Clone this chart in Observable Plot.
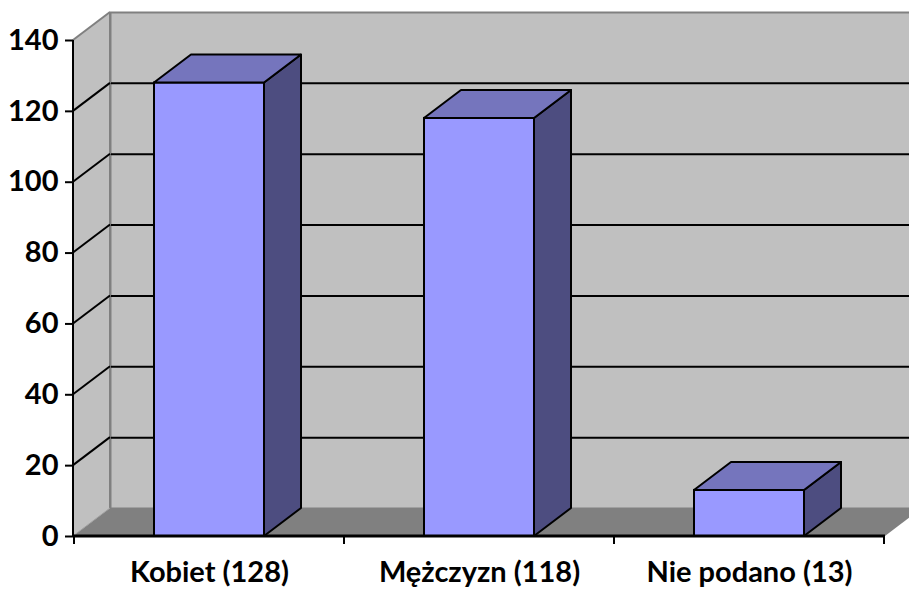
<!DOCTYPE html>
<html><head><meta charset="utf-8">
<script src="https://cdn.jsdelivr.net/npm/d3@7"></script>
<script src="https://cdn.jsdelivr.net/npm/@observablehq/plot@0.6"></script>
<style>body{margin:0;background:#fff}</style>
</head><body><div id="chart"></div>
<script>
const categories = ["Kobiet (128)", "Mężczyzn (118)", "Nie podano (13)"];
const values = [128, 118, 13];
const yTicks = [0, 20, 40, 60, 80, 100, 120, 140];
const gridValues = [20, 40, 60, 80, 100, 120];

const data = categories.map((c, i) => ({category: c, value: values[i]}));

const DX = 37, DY = -28, INSET = 80;
const NS = "http://www.w3.org/2000/svg";
function el(tag, attrs) {
  const e = document.createElementNS(NS, tag);
  for (const k in attrs) e.setAttribute(k, attrs[k]);
  return e;
}
function poly(pts, attrs) {
  return el("polygon", Object.assign({points: pts.map(p => p.join(",")).join(" ")}, attrs));
}

function chrome(index, scales, ch, dim) {
  const y = scales.y;
  const x0 = dim.marginLeft, x1 = dim.width - dim.marginRight;
  const y0 = y(0), yT = y(140);
  const g = el("g", {});
  g.append(poly([[x0, y0], [x0, yT], [x0 + DX, yT + DY], [x0 + DX, y0 + DY]],
    {fill: "#C0C0C0", stroke: "none"}));
  g.append(el("line", {x1: x0, y1: yT, x2: x0 + DX, y2: yT + DY, stroke: "#808080", "stroke-width": 2}));
  g.append(el("line", {x1: x0 + DX, y1: yT + DY, x2: x0 + DX, y2: y0 + DY, stroke: "#808080", "stroke-width": 2}));
  for (const v of gridValues) {
    g.append(el("line", {x1: x0, y1: y(v), x2: x0 + DX, y2: y(v) + DY, stroke: "#000", "stroke-width": 2}));
  }
  g.append(poly([[x0, y0], [x1, y0], [x1 + DX, y0 + DY], [x0 + DX, y0 + DY]],
    {fill: "#808080", stroke: "none"}));
  g.append(el("line", {x1: x0, y1: y0, x2: x0 + DX, y2: y0 + DY, stroke: "#a0a0a0", "stroke-width": 1}));
  return g;
}

function faces(index, scales, ch, dim) {
  const x = scales.x, y = scales.y;
  const bw = x.bandwidth ? x.bandwidth() : (dim.width - dim.marginLeft - dim.marginRight) / categories.length;
  const g = el("g", {stroke: "#000", "stroke-width": 2, "stroke-linejoin": "round"});
  categories.forEach((c, i) => {
    const xl = x(c) + INSET, xr = x(c) + bw - INSET;
    const yv = y(values[i]), y0 = y(0);
    g.append(poly([[xr, yv], [xr + DX, yv + DY], [xr + DX, y0 + DY], [xr, y0]], {fill: "#4D4D80"}));
    g.append(poly([[xl, yv], [xr, yv], [xr + DX, yv + DY], [xl + DX, yv + DY]], {fill: "#7575BD"}));
  });
  return g;
}

function axesLines(index, scales, ch, dim) {
  const x = scales.x, y = scales.y;
  const bw = x.bandwidth ? x.bandwidth() : (dim.width - dim.marginLeft - dim.marginRight) / categories.length;
  const x0 = dim.marginLeft, x1 = dim.width - dim.marginRight;
  const y0 = y(0), yT = y(140);
  const g = el("g", {stroke: "#000"});
  g.append(el("line", {x1: x0, y1: yT, x2: x0, y2: y0 + 1, "stroke-width": 2}));
  g.append(el("line", {x1: x0, y1: y0, x2: x1, y2: y0, "stroke-width": 3}));
  const bounds = categories.map(c => x(c)).concat([x(categories[categories.length - 1]) + bw]);
  for (const b of bounds) {
    g.append(el("line", {x1: b, y1: y0, x2: b, y2: y0 + 8, "stroke-width": 2}));
  }
  return g;
}

const chart = Plot.plot({
  width: 909,
  height: 591,
  marginLeft: 73,
  marginRight: 24,
  marginTop: 40,
  marginBottom: 55,
  style: {fontFamily: "Lato, 'Liberation Sans', sans-serif", fontSize: "29px", fontWeight: 700, color: "#000", background: "#fff"},
  x: {domain: categories, padding: 0, label: null},
  y: {domain: [0, 140], label: null},
  marks: [
    Plot.frame({fill: "#C0C0C0", stroke: "#808080", strokeWidth: 2, dx: DX, dy: DY}),
    Plot.ruleY(gridValues, {stroke: "#000", strokeWidth: 2, dx: DX, dy: DY}),
    chrome,
    Plot.barY(data, {x: "category", y: "value", fill: "#9999FF", stroke: "#000", strokeWidth: 2, insetLeft: INSET, insetRight: INSET}),
    faces,
    axesLines,
    Plot.axisY({ticks: yTicks, tickSize: 8, tickPadding: 7, strokeWidth: 2, tickFormat: d => String(d), label: null}),
    Plot.axisX({tickSize: 0, tickPadding: 25, label: null})
  ]
});
document.getElementById("chart").append(chart);
</script>
</body></html>
